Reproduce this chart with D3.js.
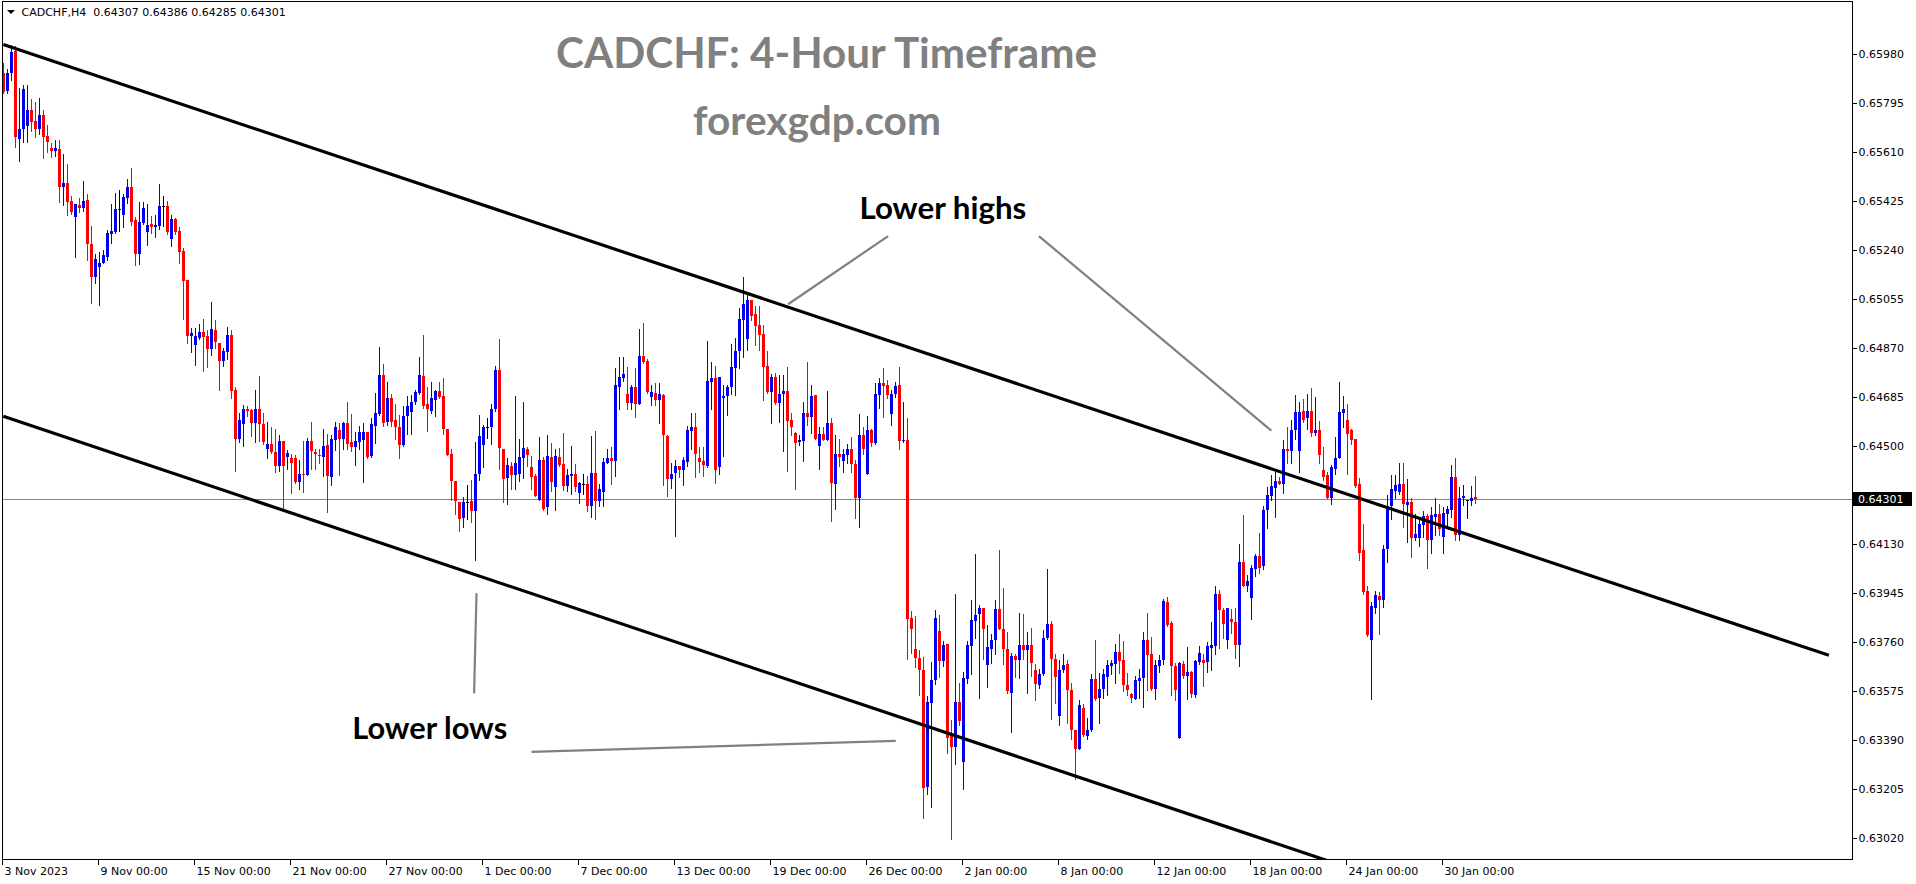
<!DOCTYPE html>
<html><head><meta charset="utf-8">
<script src="https://cdn.jsdelivr.net/npm/d3@7"></script>
<style>html,body{margin:0;padding:0;background:#fff;overflow:hidden}</style>
</head><body><svg id="c" width="1916" height="884"></svg>
<script>
// ---------- DATA ----------
const symbolInfo = "CADCHF,H4";
const lastQuote = ["0.64307", "0.64386", "0.64285", "0.64301"];
const titleText = "CADCHF: 4-Hour Timeframe";
const siteText = "forexgdp.com";

const open = [
0.65907,0.65841,0.65906,0.65992,0.65659,0.65695,0.65708,0.65768,0.65726,0.65695,
0.65748,0.65670,0.65624,0.65612,0.65620,0.65478,0.65491,0.65423,0.65363,0.65409,
0.65400,0.65428,0.65264,0.65138,0.65176,0.65189,0.65214,0.65300,0.65308,0.65394,
0.65371,0.65434,0.65478,0.65352,0.65224,0.65342,0.65308,0.65337,0.65325,0.65330,
0.65405,0.65405,0.65283,0.65356,0.65311,0.65235,0.65126,0.64914,0.64880,0.64906,
0.64930,0.64914,0.64865,0.64937,0.64887,0.64821,0.64855,0.64917,0.64711,0.64525,
0.64582,0.64638,0.64635,0.64585,0.64638,0.64582,0.64488,0.64507,0.64478,0.64424,
0.64518,0.64459,0.64456,0.64453,0.64364,0.64396,0.64392,0.64519,0.64479,0.64465,
0.64459,0.64503,0.64383,0.64522,0.64562,0.64526,0.64587,0.64515,0.64496,0.64515,
0.64524,0.64552,0.64461,0.64575,0.64620,0.64767,0.64591,0.64683,0.64597,0.64570,
0.64503,0.64612,0.64629,0.64666,0.64700,0.64763,0.64658,0.64632,0.64675,0.64707,
0.64688,0.64566,0.64469,0.64368,0.64289,0.64230,0.64287,0.64291,0.64255,0.64396,
0.64503,0.64570,0.64570,0.64638,0.64786,0.64490,0.64379,0.64424,0.64390,0.64396,
0.64455,0.64488,0.64421,0.64387,0.64298,0.64449,0.64268,0.64459,0.64345,0.64459,
0.64431,0.64348,0.64386,0.64393,0.64323,0.64358,0.64358,0.64274,0.64400,0.64293,
0.64327,0.64436,0.64453,0.64444,0.64723,0.64757,0.64698,0.64663,0.64721,0.64658,
0.64839,0.64820,0.64685,0.64700,0.64675,0.64692,0.64537,0.64375,0.64398,0.64424,
0.64411,0.64440,0.64557,0.64572,0.64453,0.64444,0.64424,0.64742,0.64757,0.64419,
0.64681,0.64688,0.64721,0.64796,0.64859,0.64977,0.64902,0.65050,0.64998,0.64956,
0.64922,0.64801,0.64704,0.64761,0.64663,0.64698,0.64707,0.64597,0.64549,0.64515,
0.64519,0.64623,0.64610,0.64692,0.64499,0.64544,0.64524,0.64585,0.64358,0.64469,
0.64444,0.64465,0.64487,0.64431,0.64305,0.64541,0.64396,0.64559,0.64512,0.64692,
0.64736,0.64729,0.64619,0.64695,0.64729,0.64518,0.64522,0.63852,0.63735,0.63701,
0.63656,0.63213,0.63530,0.63618,0.63801,0.63689,0.63752,0.63408,0.63364,0.63534,
0.63307,0.63622,0.63744,0.63840,0.63865,0.63890,0.63672,0.63735,0.63767,0.63886,
0.63811,0.63735,0.63568,0.63706,0.63694,0.63748,0.63732,0.63748,0.63653,0.63597,
0.63638,0.63777,0.63830,0.63698,0.63483,0.63653,0.63676,0.63580,0.63429,0.63358,
0.63513,0.63404,0.63427,0.63622,0.63550,0.63584,0.63628,0.63668,0.63679,0.63722,
0.63694,0.63597,0.63563,0.63547,0.63613,0.63626,0.63769,0.63714,0.63584,0.63668,
0.63694,0.63911,0.63832,0.63668,0.63399,0.63679,0.63631,0.63647,0.63559,0.63685,
0.63691,0.63685,0.63739,0.63744,0.63940,0.63880,0.63767,0.63849,0.63836,0.63748,
0.64062,0.63971,0.63928,0.64037,0.64084,0.64046,0.64257,0.64310,0.64343,0.64368,
0.64358,0.64490,0.64481,0.64559,0.64481,0.64632,0.64604,0.64632,0.64549,0.64562,
0.64408,0.64390,0.64305,0.64415,0.64456,0.64625,0.64600,0.64562,0.64528,0.64356,
0.64106,0.63953,0.63769,0.63890,0.63933,0.63920,0.64113,0.64273,0.64330,0.64327,
0.64358,0.64276,0.64289,0.64154,0.64154,0.64201,0.64235,0.64144,0.64232,0.64242,
0.64157,0.64242,0.64260,0.64383,0.64163,0.64302,0.64295,0.64293,0.64307];

const high = [
0.65945,0.65921,0.66013,0.66009,0.65850,0.65862,0.65862,0.65809,0.65798,0.65812,
0.65768,0.65711,0.65642,0.65654,0.65654,0.65602,0.65564,0.65444,0.65413,0.65434,
0.65501,0.65451,0.65330,0.65224,0.65233,0.65239,0.65315,0.65413,0.65453,0.65466,
0.65451,0.65506,0.65550,0.65365,0.65419,0.65420,0.65415,0.65367,0.65371,0.65488,
0.65443,0.65425,0.65371,0.65361,0.65325,0.65246,0.65128,0.64947,0.64947,0.64960,
0.64981,0.64937,0.65042,0.64977,0.64887,0.64868,0.64950,0.64937,0.64721,0.64625,
0.64654,0.64650,0.64641,0.64711,0.64763,0.64623,0.64589,0.64572,0.64563,0.64541,
0.64518,0.64484,0.64471,0.64465,0.64449,0.64519,0.64532,0.64589,0.64487,0.64490,
0.64564,0.64547,0.64541,0.64591,0.64585,0.64591,0.64666,0.64620,0.64553,0.64575,
0.64587,0.64552,0.64604,0.64700,0.64874,0.64811,0.64742,0.64695,0.64658,0.64616,
0.64650,0.64688,0.64692,0.64711,0.64836,0.64918,0.64723,0.64742,0.64711,0.64742,
0.64758,0.64566,0.64490,0.64368,0.64289,0.64308,0.64352,0.64371,0.64515,0.64616,
0.64578,0.64607,0.64660,0.64801,0.64902,0.64490,0.64453,0.64440,0.64688,0.64528,
0.64666,0.64496,0.64461,0.64396,0.64534,0.64459,0.64541,0.64512,0.64490,0.64493,
0.64549,0.64415,0.64499,0.64431,0.64364,0.64393,0.64386,0.64537,0.64557,0.64358,
0.64456,0.64490,0.64496,0.64793,0.64836,0.64836,0.64799,0.64729,0.64796,0.64940,
0.64965,0.64830,0.64729,0.64736,0.64736,0.64695,0.64541,0.64436,0.64446,0.64424,
0.64459,0.64575,0.64626,0.64623,0.64496,0.64496,0.64897,0.64817,0.64801,0.64761,
0.64729,0.64729,0.64884,0.64906,0.65019,0.65138,0.65078,0.65050,0.65028,0.65028,
0.64956,0.64859,0.64771,0.64774,0.64767,0.64767,0.64799,0.64623,0.64553,0.64541,
0.64666,0.64817,0.64729,0.64692,0.64572,0.64572,0.64708,0.64604,0.64541,0.64528,
0.64490,0.64507,0.64534,0.64449,0.64620,0.64572,0.64612,0.64566,0.64736,0.64758,
0.64796,0.64748,0.64711,0.64742,0.64799,0.64666,0.64604,0.63877,0.63857,0.63731,
0.63704,0.63555,0.63685,0.63880,0.63861,0.63764,0.63752,0.63465,0.63940,0.63605,
0.63647,0.63764,0.63918,0.64091,0.63899,0.63890,0.63823,0.63792,0.63918,0.64109,
0.63966,0.63798,0.63719,0.63716,0.63870,0.63867,0.63798,0.63815,0.63679,0.63660,
0.63804,0.64034,0.63840,0.63716,0.63694,0.63714,0.63694,0.63605,0.63429,0.63540,
0.63525,0.63475,0.63638,0.63769,0.63643,0.63660,0.63691,0.63694,0.63752,0.63789,
0.63764,0.63643,0.63568,0.63631,0.63660,0.63798,0.63870,0.63779,0.63691,0.63710,
0.63924,0.63930,0.63840,0.63681,0.63685,0.63688,0.63741,0.63651,0.63694,0.63744,
0.63716,0.63760,0.63836,0.63970,0.63955,0.63890,0.63890,0.63886,0.63890,0.64129,
0.64239,0.64012,0.64050,0.64094,0.64172,0.64273,0.64345,0.64390,0.64402,0.64383,
0.64522,0.64570,0.64600,0.64692,0.64666,0.64679,0.64698,0.64717,0.64685,0.64595,
0.64496,0.64402,0.64427,0.64534,0.64742,0.64688,0.64660,0.64566,0.64528,0.64381,
0.64207,0.63971,0.63911,0.63953,0.63949,0.64125,0.64314,0.64390,0.64390,0.64434,
0.64434,0.64377,0.64302,0.64242,0.64230,0.64255,0.64242,0.64270,0.64302,0.64280,
0.64270,0.64273,0.64427,0.64453,0.64345,0.64352,0.64298,0.64348,0.64386];

const low = [
0.65832,0.65831,0.65881,0.65627,0.65576,0.65648,0.65648,0.65690,0.65665,0.65677,
0.65588,0.65610,0.65589,0.65594,0.65421,0.65409,0.65371,0.65375,0.65214,0.65384,
0.65388,0.65201,0.65040,0.65116,0.65031,0.65189,0.65201,0.65267,0.65304,0.65312,
0.65325,0.65418,0.65333,0.65182,0.65186,0.65337,0.65258,0.65302,0.65287,0.65317,
0.65330,0.65300,0.65254,0.65300,0.65191,0.64981,0.64889,0.64855,0.64805,0.64902,
0.64783,0.64798,0.64843,0.64868,0.64711,0.64801,0.64830,0.64683,0.64406,0.64515,
0.64500,0.64614,0.64538,0.64515,0.64519,0.64509,0.64455,0.64472,0.64402,0.64406,
0.64260,0.64415,0.64323,0.64361,0.64336,0.64327,0.64392,0.64412,0.64415,0.64436,
0.64386,0.64251,0.64352,0.64484,0.64390,0.64490,0.64490,0.64481,0.64427,0.64487,
0.64364,0.64456,0.64459,0.64512,0.64616,0.64575,0.64578,0.64575,0.64528,0.64453,
0.64499,0.64547,0.64544,0.64660,0.64695,0.64645,0.64557,0.64625,0.64612,0.64683,
0.64547,0.64465,0.64295,0.64242,0.64179,0.64194,0.64226,0.64213,0.64069,0.64373,
0.64421,0.64532,0.64507,0.64632,0.64415,0.64289,0.64280,0.64339,0.64336,0.64368,
0.64381,0.64424,0.64339,0.64310,0.64295,0.64260,0.64245,0.64330,0.64260,0.64424,
0.64333,0.64330,0.64320,0.64330,0.64285,0.64320,0.64255,0.64232,0.64223,0.64273,
0.64273,0.64434,0.64358,0.64386,0.64641,0.64746,0.64641,0.64641,0.64610,0.64658,
0.64814,0.64700,0.64654,0.64654,0.64587,0.64352,0.64310,0.64343,0.64159,0.64383,
0.64352,0.64424,0.64490,0.64383,0.64402,0.64386,0.64421,0.64638,0.64361,0.64393,
0.64461,0.64616,0.64698,0.64692,0.64796,0.64836,0.64862,0.64977,0.64880,0.64862,
0.64673,0.64700,0.64587,0.64660,0.64591,0.64481,0.64406,0.64541,0.64336,0.64503,
0.64444,0.64578,0.64549,0.64525,0.64415,0.64522,0.64522,0.64217,0.64264,0.64424,
0.64402,0.64434,0.64402,0.64230,0.64194,0.64469,0.64396,0.64499,0.64507,0.64645,
0.64610,0.64683,0.64578,0.64685,0.64487,0.64515,0.63698,0.63719,0.63666,0.63559,
0.63097,0.63188,0.63137,0.63601,0.63628,0.63668,0.63341,0.63018,0.63299,0.63446,
0.63207,0.63605,0.63638,0.63777,0.63550,0.63698,0.63590,0.63681,0.63716,0.63811,
0.63676,0.63568,0.63420,0.63628,0.63626,0.63698,0.63568,0.63631,0.63543,0.63588,
0.63635,0.63773,0.63471,0.63530,0.63449,0.63647,0.63454,0.63395,0.63244,0.63358,
0.63404,0.63395,0.63424,0.63543,0.63454,0.63550,0.63559,0.63641,0.63605,0.63643,
0.63575,0.63559,0.63534,0.63547,0.63550,0.63515,0.63581,0.63581,0.63547,0.63647,
0.63676,0.63820,0.63559,0.63540,0.63399,0.63626,0.63547,0.63553,0.63553,0.63679,
0.63593,0.63647,0.63653,0.63716,0.63739,0.63777,0.63739,0.63794,0.63701,0.63668,
0.63971,0.63953,0.63849,0.64008,0.64021,0.64034,0.64192,0.64295,0.64232,0.64356,
0.64323,0.64436,0.64436,0.64528,0.64402,0.64591,0.64566,0.64537,0.64541,0.64434,
0.64371,0.64302,0.64280,0.64396,0.64456,0.64572,0.64393,0.64509,0.64345,0.64071,
0.63943,0.63782,0.63547,0.63870,0.63789,0.63892,0.64062,0.64226,0.64302,0.64318,
0.64194,0.64138,0.64081,0.64144,0.64122,0.64157,0.64041,0.64096,0.64163,0.64163,
0.64096,0.64192,0.64232,0.64144,0.64147,0.64276,0.64230,0.64276,0.64285];

const close = [
0.65836,0.65909,0.65987,0.65665,0.65696,0.65846,0.65768,0.65724,0.65695,0.65748,
0.65667,0.65648,0.65612,0.65624,0.65476,0.65491,0.65421,0.65384,0.65413,0.65400,
0.65423,0.65264,0.65136,0.65204,0.65189,0.65220,0.65304,0.65312,0.65394,0.65394,
0.65440,0.65478,0.65346,0.65224,0.65344,0.65399,0.65333,0.65325,0.65333,0.65405,
0.65405,0.65308,0.65356,0.65308,0.65233,0.65123,0.64914,0.64925,0.64914,0.64930,
0.64910,0.64865,0.64940,0.64891,0.64821,0.64859,0.64917,0.64708,0.64525,0.64600,
0.64638,0.64631,0.64585,0.64638,0.64582,0.64515,0.64507,0.64478,0.64424,0.64518,
0.64424,0.64474,0.64434,0.64364,0.64396,0.64393,0.64519,0.64481,0.64469,0.64461,
0.64499,0.64386,0.64526,0.64570,0.64526,0.64587,0.64507,0.64496,0.64519,0.64552,
0.64552,0.64459,0.64582,0.64623,0.64767,0.64587,0.64683,0.64591,0.64570,0.64503,
0.64612,0.64650,0.64666,0.64704,0.64767,0.64650,0.64638,0.64683,0.64708,0.64685,
0.64565,0.64465,0.64368,0.64293,0.64226,0.64289,0.64287,0.64255,0.64396,0.64537,
0.64572,0.64570,0.64638,0.64786,0.64494,0.64376,0.64427,0.64390,0.64434,0.64459,
0.64492,0.64465,0.64383,0.64311,0.64449,0.64264,0.64461,0.64364,0.64461,0.64427,
0.64349,0.64390,0.64393,0.64345,0.64361,0.64358,0.64274,0.64398,0.64293,0.64339,
0.64439,0.64455,0.64444,0.64729,0.64761,0.64771,0.64663,0.64721,0.64660,0.64839,
0.64817,0.64704,0.64702,0.64675,0.64695,0.64541,0.64375,0.64393,0.64424,0.64408,
0.64446,0.64559,0.64572,0.64469,0.64440,0.64427,0.64745,0.64757,0.64411,0.64761,
0.64689,0.64723,0.64799,0.64859,0.64981,0.65035,0.65050,0.64990,0.64952,0.64918,
0.64799,0.64704,0.64761,0.64663,0.64698,0.64707,0.64595,0.64570,0.64512,0.64522,
0.64623,0.64610,0.64688,0.64528,0.64544,0.64524,0.64585,0.64361,0.64469,0.64459,
0.64469,0.64487,0.64431,0.64305,0.64541,0.64487,0.64559,0.64512,0.64698,0.64736,
0.64726,0.64692,0.64695,0.64726,0.64519,0.64524,0.63849,0.63811,0.63701,0.63656,
0.63210,0.63534,0.63618,0.63852,0.63689,0.63748,0.63399,0.63364,0.63534,0.63462,
0.63626,0.63748,0.63842,0.63861,0.63890,0.63811,0.63741,0.63769,0.63886,0.63811,
0.63735,0.63575,0.63706,0.63694,0.63748,0.63732,0.63748,0.63681,0.63601,0.63641,
0.63777,0.63830,0.63698,0.63628,0.63656,0.63672,0.63580,0.63429,0.63358,0.63521,
0.63408,0.63429,0.63622,0.63547,0.63584,0.63641,0.63672,0.63681,0.63722,0.63689,
0.63597,0.63580,0.63550,0.63616,0.63626,0.63769,0.63710,0.63584,0.63672,0.63694,
0.63915,0.63823,0.63668,0.63580,0.63681,0.63631,0.63647,0.63563,0.63689,0.63719,
0.63681,0.63744,0.63748,0.63940,0.63880,0.63830,0.63890,0.63836,0.63748,0.64062,
0.63971,0.63991,0.64041,0.64084,0.64041,0.64260,0.64314,0.64348,0.64368,0.64356,
0.64490,0.64481,0.64562,0.64629,0.64629,0.64600,0.64632,0.64549,0.64562,0.64465,
0.64383,0.64305,0.64419,0.64456,0.64629,0.64641,0.64544,0.64524,0.64348,0.64096,
0.63949,0.63786,0.63895,0.63937,0.63918,0.64113,0.64273,0.64339,0.64352,0.64358,
0.64280,0.64289,0.64154,0.64169,0.64205,0.64235,0.64144,0.64239,0.64242,0.64185,
0.64247,0.64264,0.64383,0.64163,0.64305,0.64310,0.64295,0.64302,0.64301];

// time axis: bar index of each label, and its text
const xTickBars = [0, 24, 48, 72, 96, 120, 144, 168, 192, 216, 240, 264, 288, 312, 336, 360];
const xTickLabels = ["3 Nov 2023", "9 Nov 00:00", "15 Nov 00:00", "21 Nov 00:00", "27 Nov 00:00",
  "1 Dec 00:00", "7 Dec 00:00", "13 Dec 00:00", "19 Dec 00:00", "26 Dec 00:00", "2 Jan 00:00",
  "8 Jan 00:00", "12 Jan 00:00", "18 Jan 00:00", "24 Jan 00:00", "30 Jan 00:00"];
const yTickValues = [0.65980, 0.65795, 0.65610, 0.65425, 0.65240, 0.65055, 0.64870, 0.64685,
  0.64500, 0.64130, 0.63945, 0.63760, 0.63575, 0.63390, 0.63205, 0.63020];

// channel lines [barIndex, price]
const upperChannel = [[0, 0.66015], [456.4, 0.63710]];
const lowerChannel = [[0, 0.64612], [369, 0.62743]];
// annotation pointer segments [barIndex, price]
const highsPointers = [[[196.2, 0.65035], [221.2, 0.65292]], [[258.9, 0.65292], [317.0, 0.64558]]];
const lowsPointers = [[[118.3, 0.63944], [117.7, 0.63567]], [[132.05, 0.63346], [223.1, 0.63387]]];
const noteTexts = ["Lower highs", "Lower lows"];
const noteAnchors = [[234.9, 0.65356], [106.6, 0.63393]];

// ---------- LAYOUT ----------
const W = 1916, H = 884;
const plot = {l: 2, t: 2, r: 1852, b: 860};
const noteWidths = [167, 155];
const axisFont = "'DejaVu Sans', Tahoma, sans-serif";
const titleFont = "Lato, 'Open Sans', sans-serif";
const BULL = "#0000ee", BEAR = "#ff0000", DOJI = "#000000";

const svg = d3.select("#c");
svg.append("rect").attr("width", W).attr("height", H).attr("fill", "#fff");

const x = d3.scaleLinear().domain([0, 368]).range([3.3, 1475.3]);
const y = d3.scaleLinear().domain([0.63020, 0.65980]).range([838.2, 53.8]);

svg.append("defs").append("clipPath").attr("id", "pc")
  .append("rect").attr("x", plot.l).attr("y", plot.t)
  .attr("width", plot.r - plot.l).attr("height", plot.b - plot.t);

function fit(sel, target) {
  const w = sel.node().getComputedTextLength();
  sel.attr("font-size", parseFloat(sel.attr("font-size")) * target / w);
}

// Title texts
const t1 = svg.append("text").attr("x", 826.5).attr("y", 68).attr("text-anchor", "middle")
  .attr("font-family", titleFont).attr("font-weight", 700).attr("font-size", 40)
  .attr("fill", "#808080").text(titleText);
fit(t1, 541);
const t2 = svg.append("text").attr("x", 817).attr("y", 135).attr("text-anchor", "middle")
  .attr("font-family", titleFont).attr("font-weight", 700).attr("font-size", 30)
  .attr("fill", "#808080").text(siteText);
fit(t2, 248);

// current price line
const lastClose = close[close.length - 1];
svg.append("line").attr("x1", plot.l).attr("x2", plot.r)
  .attr("y1", Math.round(y(lastClose)) + 0.5).attr("y2", Math.round(y(lastClose)) + 0.5)
  .attr("stroke", "#778899").attr("stroke-width", 1).attr("shape-rendering", "crispEdges");

// candles
const bars = d3.range(open.length).map(i => ({i, o: open[i], h: high[i], l: low[i], c: close[i]}));
const col = d => d.c > d.o ? BULL : d.c < d.o ? BEAR : DOJI;
const cg = svg.append("g").attr("clip-path", "url(#pc)").attr("shape-rendering", "crispEdges");
cg.selectAll("rect.w").data(bars).join("rect").attr("class", "w")
  .attr("x", d => Math.round(x(d.i)))
  .attr("y", d => Math.round(y(Math.max(d.h, d.o, d.c))))
  .attr("width", 1)
  .attr("height", d => Math.max(1, Math.round(y(Math.min(d.l, d.o, d.c))) - Math.round(y(Math.max(d.h, d.o, d.c))) + 1))
  .attr("fill", col);
cg.selectAll("rect.b").data(bars).join("rect").attr("class", "b")
  .attr("x", d => Math.round(x(d.i)) - 1)
  .attr("y", d => Math.round(y(Math.max(d.o, d.c))))
  .attr("width", 3)
  .attr("height", d => Math.max(1, Math.round(y(Math.min(d.o, d.c))) - Math.round(y(Math.max(d.o, d.c)))))
  .attr("fill", col);

// channel lines & pointers
const line = d3.line().x(d => x(d[0])).y(d => y(d[1]));
const og = svg.append("g").attr("clip-path", "url(#pc)");
og.selectAll("path.ch").data([upperChannel, lowerChannel]).join("path").attr("class", "ch")
  .attr("d", line).attr("stroke", "#000").attr("stroke-width", 3.2).attr("fill", "none");
og.selectAll("path.pt").data(highsPointers.concat(lowsPointers)).join("path").attr("class", "pt")
  .attr("d", line).attr("stroke", "#808080").attr("stroke-width", 2.2).attr("fill", "none");
noteTexts.forEach((t, k) => {
  const s = og.append("text").attr("x", x(noteAnchors[k][0])).attr("y", y(noteAnchors[k][1]))
    .attr("text-anchor", "middle").attr("font-family", titleFont).attr("font-weight", 700)
    .attr("font-size", 26).attr("fill", "#000").text(t);
  fit(s, noteWidths[k]);
});

// frame
svg.append("rect").attr("x", plot.l + 0.5).attr("y", plot.t - 0.5)
  .attr("width", plot.r - plot.l).attr("height", plot.b - plot.t)
  .attr("fill", "none").attr("stroke", "#000").attr("stroke-width", 1).attr("shape-rendering", "crispEdges");

// right price axis
const ya = svg.append("g").attr("transform", `translate(${plot.r + 0.5},0)`)
  .call(d3.axisRight(y).tickValues(yTickValues).tickFormat(d3.format(".5f")).tickSize(4).tickPadding(2).tickSizeOuter(0));
ya.select(".domain").remove();
ya.selectAll("line").attr("stroke", "#000").attr("shape-rendering", "crispEdges");
ya.selectAll("text").attr("font-family", axisFont).attr("font-size", 11).attr("fill", "#000");

// current price label
const py = y(lastClose);
svg.append("rect").attr("x", plot.r + 1).attr("y", Math.round(py) - 7).attr("width", 59).attr("height", 14).attr("fill", "#000");
svg.append("text").attr("x", plot.r + 6).attr("y", py).attr("dy", "0.35em")
  .attr("font-family", axisFont).attr("font-size", 11).attr("fill", "#fff").text(lastQuote[3]);

// bottom time axis
const xa = svg.append("g").attr("transform", `translate(0,${plot.b - 0.5})`)
  .call(d3.axisBottom(x).tickValues(xTickBars).tickFormat((d, i) => xTickLabels[i]).tickSize(5).tickPadding(3).tickSizeOuter(0));
xa.select(".domain").remove();
xa.selectAll(".tick line").attr("stroke", "#000").attr("shape-rendering", "crispEdges");
xa.selectAll(".tick").attr("transform", d => `translate(${Math.round(x(d)) - 0.5},0)`);
xa.selectAll("text").attr("text-anchor", "start").attr("x", 2)
  .attr("font-family", axisFont).attr("font-size", 11).attr("fill", "#000");

// header
svg.append("path").attr("d", "M7,10 L15,10 L11,14 Z").attr("fill", "#000");
svg.append("text").attr("x", 21.5).attr("y", 16).attr("font-family", axisFont).attr("font-size", 11)
  .attr("fill", "#000").style("white-space", "pre")
  .text(symbolInfo + "  " + lastQuote.join(" "));
</script>
</body></html>
